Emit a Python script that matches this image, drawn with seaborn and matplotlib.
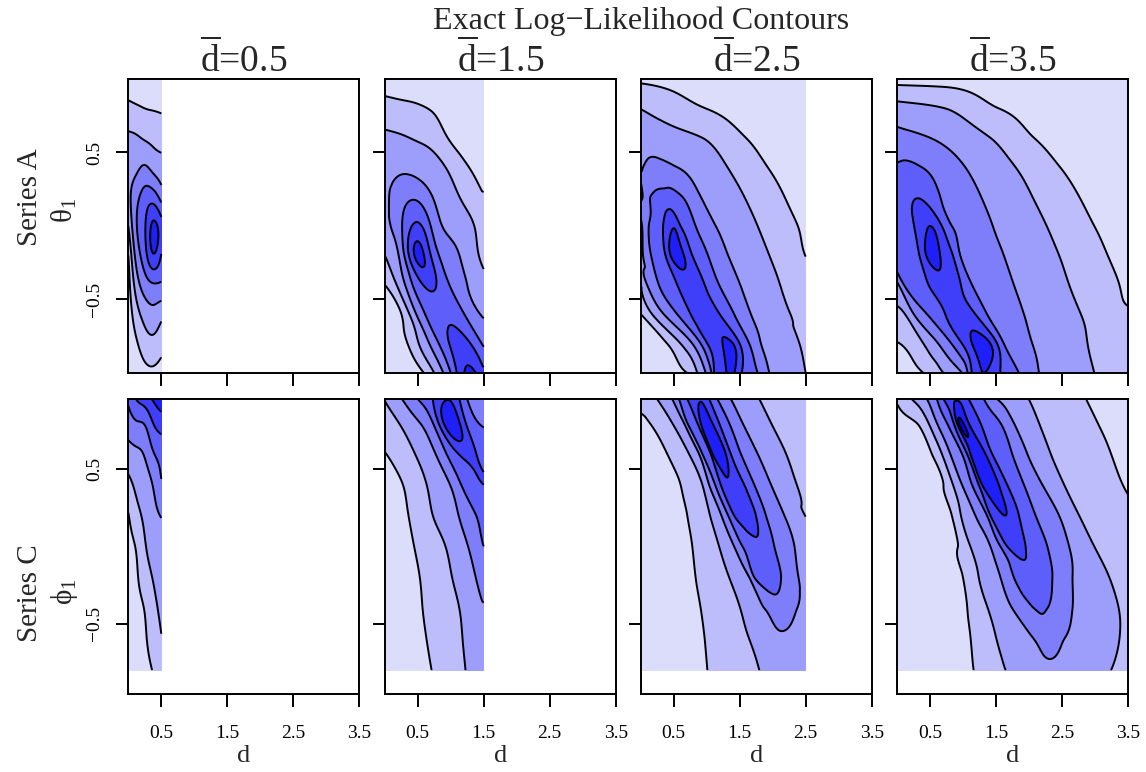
import numpy as np
import matplotlib
matplotlib.use("Agg")
import matplotlib.pyplot as plt
import seaborn as sns

# y positions of the reading rows
TOP_Y = [1.0, 0.8, 0.6, 0.4, 0.2, 0.0, -0.2, -0.4, -0.6, -0.8, -1.0]
BOT_Y = [0.955, 0.8, 0.6, 0.4, 0.2, 0.0, -0.2, -0.4, -0.6, -0.8]
X_05 = [0.0, 0.125, 0.25, 0.375, 0.5]
X_15 = [0.0, 0.25, 0.5, 0.75, 1.0, 1.25, 1.5]

# narrow panels: level readings on a grid, one list per d column (top -> bottom)
a_05 = [
    [0.7, 1.2, 2.2, 2.6, 2.7, 2.0, 1.0, 0.6, 0.4, 0.3, 0.2],
    [0.65, 1.1, 2.1, 2.8, 3.7, 3.95, 3.4, 2.5, 1.6, 0.9, 0.4],
    [0.6, 1.0, 1.9, 3.1, 4.4, 4.9, 4.6, 3.5, 2.4, 1.5, 0.7],
    [0.55, 0.95, 1.75, 2.7, 4.5, 6.2, 5.9, 3.9, 2.7, 1.7, 0.8],
    [0.5, 0.9, 1.6, 2.4, 3.6, 5.4, 4.95, 3.85, 2.3, 1.35, 0.6],
]
a_15 = [
    [0.7, 1.3, 2.25, 2.6, 2.75, 2.6, 2.0, 1.0, 0.6, 0.4, 0.3],
    [0.65, 1.2, 2.1, 2.8, 3.6, 3.9, 3.4, 2.5, 0.98, 0.6, 0.35],
    [0.6, 1.1, 1.9, 2.6, 3.8, 5.2, 6.3, 4.6, 3.2, 1.9, 0.6],
    [0.5, 0.9, 1.6, 2.3, 2.9, 3.6, 4.5, 5.1, 4.6, 3.5, 2.0],
    [0.4, 0.6, 0.9, 1.8, 2.3, 2.7, 3.4, 3.9, 4.8, 5.1, 4.0],
    [0.3, 0.5, 0.8, 1.05, 1.7, 2.3, 2.6, 3.0, 3.8, 5.2, 6.2],
    [0.25, 0.45, 0.7, 0.85, 1.05, 1.5, 1.75, 2.1, 2.8, 3.8, 5.2],
]
c_05 = [
    [4.2, 3.5, 2.6, 1.7, 0.95, 0.7, 0.55, 0.45, 0.4, 0.35],
    [5.05, 3.9, 2.8, 2.2, 1.7, 1.1, 0.9, 0.75, 0.65, 0.55],
    [5.5, 4.1, 3.1, 2.5, 2.2, 1.9, 1.5, 1.05, 0.9, 0.75],
    [6.1, 5.0, 3.9, 3.05, 2.7, 2.4, 2.05, 1.7, 1.4, 1.05],
    [6.6, 5.5, 4.35, 3.9, 3.05, 2.7, 2.45, 2.2, 1.95, 1.6],
]
c_15 = [
    [2.05, 1.5, 0.95, 0.7, 0.6, 0.55, 0.5, 0.5, 0.5, 0.5],
    [2.95, 2.1, 1.5, 0.95, 0.8, 0.7, 0.65, 0.6, 0.6, 0.6],
    [4.0, 2.9, 2.1, 1.6, 1.35, 1.1, 0.95, 0.9, 0.85, 0.8],
    [5.1, 4.2, 2.9, 2.3, 2.05, 1.6, 1.4, 1.25, 1.15, 1.05],
    [5.9, 6.8, 4.4, 3.05, 2.6, 2.2, 1.95, 1.7, 1.6, 1.5],
    [4.0, 4.8, 5.3, 4.5, 3.5, 2.95, 2.6, 2.3, 2.15, 2.05],
    [3.5, 3.9, 4.5, 5.0, 4.4, 4.0, 3.4, 2.95, 2.6, 2.4],
]

# wide panels: per row, (d, level) where contour lines cross it, plus ridge tops and edges
a_25 = [
    [(0, 0.8), (1.0, 0.6), (2.5, 0.2)],
    [(0, 1.98), (0.985, 1), (2.5, 0.3)],
    [(0, 2.6), (0.934, 2), (1.594, 1), (2.5, 0.5)],
    [(0, 2.9), (0.035, 3), (0.25, 3.3), (0.553, 3), (1.315, 2), (1.924, 1), (2.5, 0.65)],
    [(0, 2.9), (0.03, 3), (0.147, 4), (0.38, 4.35), (0.629, 4), (0.909, 3), (1.569, 2), (2.178, 1), (2.5, 0.75)],
    [(0, 2.8), (0.02, 3), (0.122, 4), (0.34, 5), (0.5, 5.9), (0.604, 5), (0.832, 4), (1.137, 3), (1.772, 2), (2.381, 1), (2.5, 0.9)],
    [(0, 2.6), (0.035, 3), (0.157, 4), (0.376, 5), (0.452, 6), (0.55, 6.5), (0.655, 6), (0.782, 5), (1.02, 4), (1.325, 3), (1.949, 2), (2.492, 1), (2.5, 0.98)],
    [(0, 2.0), (0.096, 3), (0.274, 4), (0.553, 5), (0.75, 5.4), (0.97, 5), (1.188, 4), (1.508, 3), (2.112, 2), (2.5, 1.3)],
    [(0, 0.98), (0.173, 2), (0.35, 3), (0.553, 4), (0.756, 5), (0.98, 5.5), (1.198, 5), (1.416, 4), (1.67, 3), (2.269, 2), (2.5, 1.6)],
    [(0, 0.45), (0.401, 1), (0.604, 2), (0.782, 3), (0.909, 4), (1.01, 5), (1.24, 6), (1.32, 6.1), (1.40, 6), (1.5, 5), (1.645, 4), (1.822, 3), (2.406, 2), (2.5, 1.8)],
    [(0, 0.3), (0.706, 1), (0.858, 2), (0.985, 3), (1.071, 4), (1.112, 5), (1.30, 6), (1.36, 6.1), (1.42, 6), (1.53, 5), (1.772, 4), (1.949, 3), (2.5, 2.0)],
]
a_35 = [
    [(0, 0.6), (1.0, 0.55), (2.0, 0.35), (3.5, 0.05)],
    [(0, 2.35), (0.726, 2), (1.538, 1), (3.5, 0.2)],
    [(0, 3.32), (0.497, 3), (1.411, 2), (2.071, 1), (3.5, 0.3)],
    [(0, 4.1), (0.15, 4.2), (0.371, 4), (1.03, 3), (1.792, 2), (2.467, 1), (3.5, 0.4)],
    [(0, 4.4), (0.3, 4.95), (0.65, 4), (1.269, 3), (2.046, 2), (2.756, 1), (3.5, 0.5)],
    [(0, 4.2), (0.254, 5), (0.5, 6.0), (0.675, 5), (0.827, 4), (1.447, 3), (2.264, 2), (2.985, 1), (3.5, 0.65)],
    [(0, 4.0), (0.335, 5), (0.437, 6), (0.54, 6.5), (0.65, 6), (0.843, 5), (0.954, 4), (1.614, 3), (2.452, 2), (3.188, 1), (3.5, 0.8)],
    [(0, 2.7), (0.02, 3), (0.1, 4), (0.472, 5), (0.72, 5.45), (0.964, 5), (1.132, 4), (1.766, 3), (2.604, 2), (3.365, 1), (3.5, 0.93)],
    [(0, 1.8), (0.117, 2), (0.25, 3), (0.45, 4), (0.726, 5), (0.95, 5.5), (1.183, 5), (1.36, 4), (1.919, 3), (2.782, 2), (3.5, 1.05)],
    [(0, 0.95), (0.04, 1), (0.396, 2), (0.62, 3), (0.82, 4), (0.98, 5), (1.132, 6), (1.28, 6.3), (1.411, 6), (1.513, 5), (1.614, 4), (2.046, 3), (2.883, 2), (3.5, 1.45)],
    [(0, 0.4), (0.396, 1), (0.70, 2), (0.98, 3), (1.066, 4), (1.13, 5), (1.31, 6.0), (1.563, 5), (1.843, 4), (2.147, 3), (2.985, 2), (3.5, 1.5)],
]
c_25 = [
    [(0, 1.2), (0.249, 2), (0.477, 3), (0.579, 4), (0.706, 5), (0.9, 5.9), (1.036, 5), (1.162, 4), (1.365, 3), (1.797, 2), (2.5, 1.3)],
    [(0, 0.85), (0.137, 1), (0.477, 2), (0.655, 3), (0.706, 4), (0.858, 5), (0.909, 6), (1.0, 6.6), (1.086, 6), (1.188, 5), (1.34, 4), (1.543, 3), (1.975, 2), (2.5, 1.4)],
    [(0, 0.6), (0.401, 1), (0.731, 2), (0.883, 3), (0.934, 4), (1.061, 5), (1.086, 6), (1.19, 6.4), (1.289, 6), (1.365, 5), (1.518, 4), (1.772, 3), (2.203, 2), (2.5, 1.5)],
    [(0, 0.5), (0.604, 1), (0.934, 2), (1.036, 3), (1.127, 4), (1.213, 5), (1.35, 5.9), (1.569, 5), (1.721, 4), (1.975, 3), (2.365, 2), (2.5, 1.75)],
    [(0, 0.45), (0.706, 1), (1.051, 2), (1.223, 3), (1.325, 4), (1.416, 5), (1.6, 5.5), (1.746, 5), (1.898, 4), (2.178, 3), (2.5, 1.97)],
    [(0, 0.4), (0.782, 1), (1.188, 2), (1.416, 3), (1.543, 4), (1.8, 4.8), (2.025, 4), (2.33, 3), (2.5, 2.4)],
    [(0, 0.4), (0.832, 1), (1.34, 2), (1.645, 3), (1.721, 4), (1.93, 4.4), (2.127, 4), (2.391, 3), (2.5, 2.6)],
    [(0, 0.4), (0.909, 1), (1.508, 2), (1.873, 3), (2.1, 3.6), (2.371, 3), (2.5, 2.7)],
    [(0, 0.4), (0.97, 1), (1.645, 2), (2.15, 2.85), (2.5, 2.6)],
    [(0, 0.4), (1.01, 1), (1.797, 2), (2.3, 2.6), (2.5, 2.45)],
]
c_35 = [
    [(0, 1.1), (0.218, 2), (0.447, 3), (0.599, 4), (0.70, 5), (0.90, 5.9), (1.08, 5), (1.31, 4), (1.51, 3), (1.99, 2), (2.86, 1), (3.5, 0.4)],
    [(0, 0.7), (0.294, 1), (0.472, 2), (0.599, 3), (0.751, 4), (0.853, 5), (0.904, 6), (0.93, 7), (0.96, 7.15), (1.0, 7), (1.081, 6), (1.259, 5), (1.563, 4), (1.766, 3), (2.147, 2), (3.036, 1), (3.5, 0.55)],
    [(0, 0.5), (0.523, 1), (0.675, 2), (0.802, 3), (0.98, 4), (1.056, 5), (1.107, 6), (1.22, 6.5), (1.335, 6), (1.437, 5), (1.741, 4), (1.97, 3), (2.325, 2), (3.239, 1), (3.5, 0.75)],
    [(0, 0.4), (0.70, 1), (0.843, 2), (0.98, 3), (1.132, 4), (1.234, 5), (1.284, 6), (1.41, 6.4), (1.538, 6), (1.665, 5), (1.919, 4), (2.198, 3), (2.528, 2), (3.416, 1), (3.5, 0.9)],
    [(0, 0.35), (0.827, 1), (0.964, 2), (1.183, 3), (1.36, 4), (1.411, 5), (1.64, 6.0), (1.843, 5), (2.096, 4), (2.452, 3), (2.756, 2), (3.5, 1.05)],
    [(0, 0.3), (0.919, 1), (1.107, 2), (1.411, 3), (1.563, 4), (1.665, 5), (1.8, 5.3), (1.944, 5), (2.274, 4), (2.604, 3), (2.985, 2), (3.5, 1.25)],
    [(0, 0.3), (0.995, 1), (1.234, 2), (1.563, 3), (1.766, 4), (2.06, 4.65), (2.35, 4), (2.655, 3), (3.213, 2), (3.5, 1.5)],
    [(0, 0.3), (1.061, 1), (1.371, 2), (1.741, 3), (2.071, 4), (2.17, 4.1), (2.274, 4), (2.655, 3), (3.355, 2), (3.5, 1.8)],
    [(0, 0.3), (1.112, 1), (1.503, 2), (2.071, 3), (2.3, 3.5), (2.528, 3), (3.365, 2), (3.5, 1.85)],
    [(0, 0.3), (1.157, 1), (1.64, 2), (2.3, 2.7), (3.239, 2), (3.5, 1.85)],
]

# ridge position (d) on each row, used to follow the ridge between rows
ridge_a_05 = [0.0] * 11
ridge_a_15 = [0.0, 0.0, 0.05, 0.2, 0.35, 0.45, 0.5, 0.7, 0.95, 1.2, 1.3]
ridge_a_25 = [0.0, 0.0, 0.1, 0.25, 0.38, 0.5, 0.55, 0.75, 0.98, 1.3, 1.36]
ridge_a_35 = [0.0, 0.0, 0.05, 0.15, 0.3, 0.5, 0.54, 0.72, 0.95, 1.28, 1.31]
ridge_c_05 = [0.0] * 10
ridge_c_15 = [0.9, 1.0, 1.2, 1.35, 1.5, 1.6, 1.7, 1.8, 1.9, 2.0]
ridge_c_25 = [0.9, 1.0, 1.19, 1.35, 1.6, 1.8, 1.93, 2.1, 2.15, 2.3]
ridge_c_35 = [0.9, 0.96, 1.22, 1.41, 1.64, 1.8, 2.06, 2.17, 2.3, 2.3]

dbar_values = [0.5, 1.5, 2.5, 3.5]
row_specs = [
    ("Series A", "$\\mathrm{\u03b8}_1$", TOP_Y,
     [(X_05, a_05, ridge_a_05), (X_15, a_15, ridge_a_15), (None, a_25, ridge_a_25), (None, a_35, ridge_a_35)],
     (-1.0, 1.0), 0.745, 0.728),
    ("Series C", "$\\mathrm{\u03d5}_1$", BOT_Y,
     [(X_05, c_05, ridge_c_05), (X_15, c_15, ridge_c_15), (None, c_25, ridge_c_25), (None, c_35, ridge_c_35)],
     (-0.955, 0.955), 0.232, 0.234),
]
line_levels = [1, 2, 3, 4, 5, 6, 7]
fill_levels = [-100] + line_levels + [100]

sns.set_style("ticks")
plt.rcParams["font.family"] = ["Liberation Serif", "DejaVu Serif"]
plt.rcParams["mathtext.fontset"] = "custom"
plt.rcParams["mathtext.rm"] = "Liberation Serif"
plt.rcParams["mathtext.it"] = "Liberation Serif:italic"
band_colors = sns.blend_palette(["#DCDCFB", "#0000FA"], n_colors=8)


def spline_weights(x, xn):
    # natural cubic spline written as a linear map from knot values to xn
    x = np.asarray(x, dtype=float)
    xn = np.asarray(xn, dtype=float)
    n = len(x)
    h = np.diff(x)
    A = np.zeros((n, n))
    A[0, 0] = A[-1, -1] = 1.0
    B = np.zeros((n, n))
    for i in range(1, n - 1):
        A[i, i - 1], A[i, i], A[i, i + 1] = h[i - 1], 2 * (h[i - 1] + h[i]), h[i]
        B[i, i - 1] = 6 / h[i - 1]
        B[i, i] = -6 / h[i - 1] - 6 / h[i]
        B[i, i + 1] = 6 / h[i]
    M = np.linalg.solve(A, B)
    k = np.clip(np.searchsorted(x, xn) - 1, 0, n - 2)
    a = (x[k + 1] - xn) / h[k]
    b = (xn - x[k]) / h[k]
    W = np.zeros((len(xn), n))
    W[np.arange(len(xn)), k] += a
    W[np.arange(len(xn)), k + 1] += b
    W += ((a ** 3 - a)[:, None] * M[k] + (b ** 3 - b)[:, None] * M[k + 1]) * (h[k] ** 2 / 6)[:, None]
    return W


def pchip(xk, yk, xq):
    xk = np.asarray(xk, dtype=float)
    yk = np.asarray(yk, dtype=float)
    h = np.diff(xk)
    delta = np.diff(yk) / h
    d = np.zeros_like(yk)
    d[0], d[-1] = delta[0], delta[-1]
    for i in range(1, len(xk) - 1):
        if delta[i - 1] * delta[i] > 0:
            w1, w2 = 2 * h[i] + h[i - 1], h[i] + 2 * h[i - 1]
            d[i] = (w1 + w2) / (w1 / delta[i - 1] + w2 / delta[i])
    xq = np.clip(xq, xk[0], xk[-1])
    k = np.clip(np.searchsorted(xk, xq) - 1, 0, len(xk) - 2)
    t = (xq - xk[k]) / h[k]
    h00 = 2 * t ** 3 - 3 * t ** 2 + 1
    h10 = t ** 3 - 2 * t ** 2 + t
    h01 = -2 * t ** 3 + 3 * t ** 2
    h11 = t ** 3 - t ** 2
    return h00 * yk[k] + h10 * h[k] * d[k] + h01 * yk[k + 1] + h11 * h[k] * d[k + 1]


def build_field(xs, data, ridge, ys, dmax):
    if xs is None:
        rows = [([p[0] for p in row], [p[1] for p in row]) for row in data]
        evals = [lambda q, r=r: pchip(r[0], r[1], q) for r in rows]
    else:
        vals = np.array(data, dtype=float).T
        evals = [lambda q, v=v: (spline_weights(xs, np.clip(q.ravel(), xs[0], xs[-1])) @ v).reshape(q.shape)
                 for v in vals]
    ys = np.asarray(ys, dtype=float)
    ridge = np.asarray(ridge, dtype=float)
    order = np.argsort(ys)
    xn = np.linspace(0, dmax, 240)
    yn = np.linspace(ys.min(), ys.max(), 260)
    Wy = spline_weights(ys[order], yn)
    p_y = Wy @ ridge[order]
    Z = np.zeros((len(yn), len(xn)))
    for j, i in enumerate(order):
        Q = xn[None, :] - p_y[:, None] + ridge[i]
        Z += Wy[:, j:j + 1] * evals[i](Q)
    return xn, yn, Z


fig = plt.figure(figsize=(11.46, 7.72), dpi=100)
lefts = [128.3, 384.7, 640.7, 897.3]
pw = 231
row_box = [(373, 294), (694, 295)]

for r, (name, sym, ys, panels, ylim, ny1, ny2) in enumerate(row_specs):
    bottom_px, h_px = row_box[r]
    for c, (xs, data, ridge) in enumerate(panels):
        ax = fig.add_axes([lefts[c] / 1146, 1 - bottom_px / 772, pw / 1146, h_px / 772])
        xn, yn, Zn = build_field(xs, data, ridge, ys, dbar_values[c])
        ax.contourf(xn, yn, Zn, levels=fill_levels, colors=band_colors)
        ax.contour(xn, yn, Zn, levels=line_levels, colors="black", linewidths=1.4)
        ax.set_xlim(0, 3.5)
        ax.set_ylim(*ylim)
        ax.set_xticks([0.5, 1.5, 2.5, 3.5])
        ax.set_yticks([-0.5, 0.5])
        for s in ax.spines.values():
            s.set_color("black")
            s.set_linewidth(1.4)
        ax.tick_params(direction="out", length=9, width=1.4, color="black",
                       labelsize=14, labelcolor="black")
        ax.tick_params(axis="x", pad=13)
        ax.tick_params(axis="y", pad=9)
        if r == 1:
            ax.set_xticklabels(["0.5", "1.5", "2.5", "3.5"])
        else:
            ax.set_xticklabels([])
        if c == 0:
            ax.set_yticklabels(["\u22120.5", "0.5"], rotation=90, va="center")
        else:
            ax.set_yticklabels([])
        cx = (lefts[c] + pw / 2) / 1146
        if r == 0:
            fig.text(cx, 0.922, r"$\overline{\mathrm{d}}$" + "=" + str(dbar_values[c]),
                     ha="center", va="center", fontsize=27)
        else:
            fig.text(cx, 0.021, "d", ha="center", va="center", fontsize=19)
    fig.text(0.026, ny1, name, rotation=90, ha="center", va="center", fontsize=21)
    fig.text(0.056, ny2, sym, rotation=90, ha="center", va="center", fontsize=21)

fig.text(0.559, 0.973, "Exact Log\u2212Likelihood Contours", ha="center", va="center", fontsize=23)

fig.savefig("out.png", dpi=100)
